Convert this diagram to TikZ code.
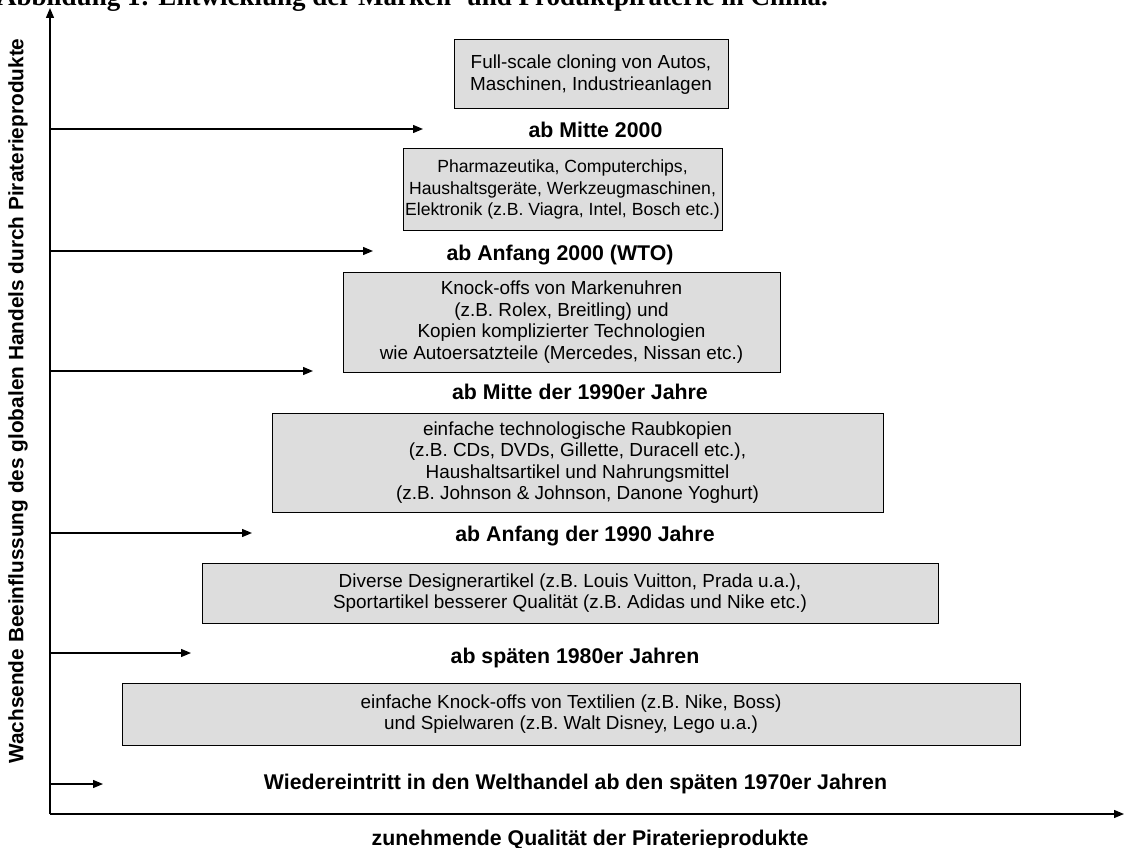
\documentclass[tikz,border=0pt]{standalone}
\usepackage{fontspec}
\setmainfont{Liberation Sans}
\newfontfamily\titlefont{Liberation Serif}
\usetikzlibrary{arrows.meta}
\definecolor{boxgray}{RGB}{221,221,221}
\begin{document}
\begin{tikzpicture}[x=1pt,y=-1pt,
  axis/.style={line width=1.3pt,-{Triangle[length=10pt,width=8pt]}},
  levelarrow/.style={line width=1.3pt,-{Triangle[length=10pt,width=8pt]}},
  itembox/.style={draw=black,line width=1pt,fill=boxgray,align=center,inner ysep=0pt,inner xsep=1.5pt,font=\fontsize{18.9}{21.5}\selectfont},
  stage/.style={font=\bfseries\fontsize{21.3}{24}\selectfont,inner sep=0pt},
]
\useasboundingbox (0,0) rectangle (1125,848);
\clip (0,0) rectangle (1125,848);
\node[anchor=base west,inner sep=0pt,font=\titlefont\bfseries\fontsize{27}{30}\selectfont] (title) at (-3,6) {Abbildung 1: Entwicklung der Marken- und Produktpiraterie in China.};

\coordinate (O) at (50,814);
\coordinate (ytop) at (50,8);
\coordinate (xend) at (1124,814);
\draw[axis] (O) -- (ytop);
\draw[axis] (O) -- (xend);

\node[itembox,minimum width=274,minimum height=69] (b1) at (591,74.5) {Full-scale cloning von Autos,\\Maschinen, Industrieanlagen};
\node[itembox,minimum width=319,minimum height=81,font=\fontsize{17.6}{21.5}\selectfont] (b2) at (562.5,189.5) {Pharmazeutika, Computerchips,\\Haushaltsger\"ate, Werkzeugmaschinen,\\Elektronik (z.B. Viagra, Intel, Bosch etc.)};
\node[itembox,minimum width=437,minimum height=100] (b3) at (561.5,322) {Knock-offs von Markenuhren\\(z.B. Rolex, Breitling) und\\Kopien komplizierter Technologien\\wie Autoersatzteile (Mercedes, Nissan etc.)};
\node[itembox,minimum width=611,minimum height=99] (b4) at (577.5,462.5) {einfache technologische Raubkopien\\(z.B. CDs, DVDs, Gillette, Duracell etc.),\\Haushaltsartikel und Nahrungsmittel\\(z.B. Johnson \& Johnson, Danone Yoghurt)};
\node[itembox,minimum width=736,minimum height=60] (b5) at (570,593) {Diverse Designerartikel (z.B. Louis Vuitton, Prada u.a.),\\Sportartikel besserer Qualit\"at (z.B. Adidas und Nike etc.)};
\node[itembox,minimum width=898,minimum height=62] (b6) at (571,714) {einfache Knock-offs von Textilien (z.B. Nike, Boss)\\und Spielwaren (z.B. Walt Disney, Lego u.a.)};

\node[stage] (l1) at (595.5,130) {ab Mitte 2000};
\node[stage] (l2) at (560,255) {ab Anfang 2000 (WTO)};
\node[stage] (l3) at (580,392) {ab Mitte der 1990er Jahre};
\node[stage] (l4) at (585,536) {ab Anfang der 1990 Jahre};
\node[stage] (l5) at (575,658) {ab sp\"aten 1980er Jahren};
\node[stage] (l6) at (575.5,784) {Wiedereintritt in den Welthandel ab den sp\"aten 1970er Jahren};

\node[stage] (xlabel) at (590,840) {zunehmende Qualit\"at der Piraterieprodukte};
\node[stage,rotate=90,font=\bfseries\fontsize{20.8}{24}\selectfont] (ylabel) at (18,401) {Wachsende Beeinflussung des globalen Handels durch Piraterieprodukte};

\foreach \i/\y/\x in {1/129/423, 2/251/373, 3/371/313, 4/533/252, 5/653/191, 6/784/103}{
  \coordinate (s\i) at (50,\y);
  \coordinate (e\i) at (\x,\y);
  \draw[levelarrow] (s\i) -- (e\i);
}
\end{tikzpicture}
\end{document}
